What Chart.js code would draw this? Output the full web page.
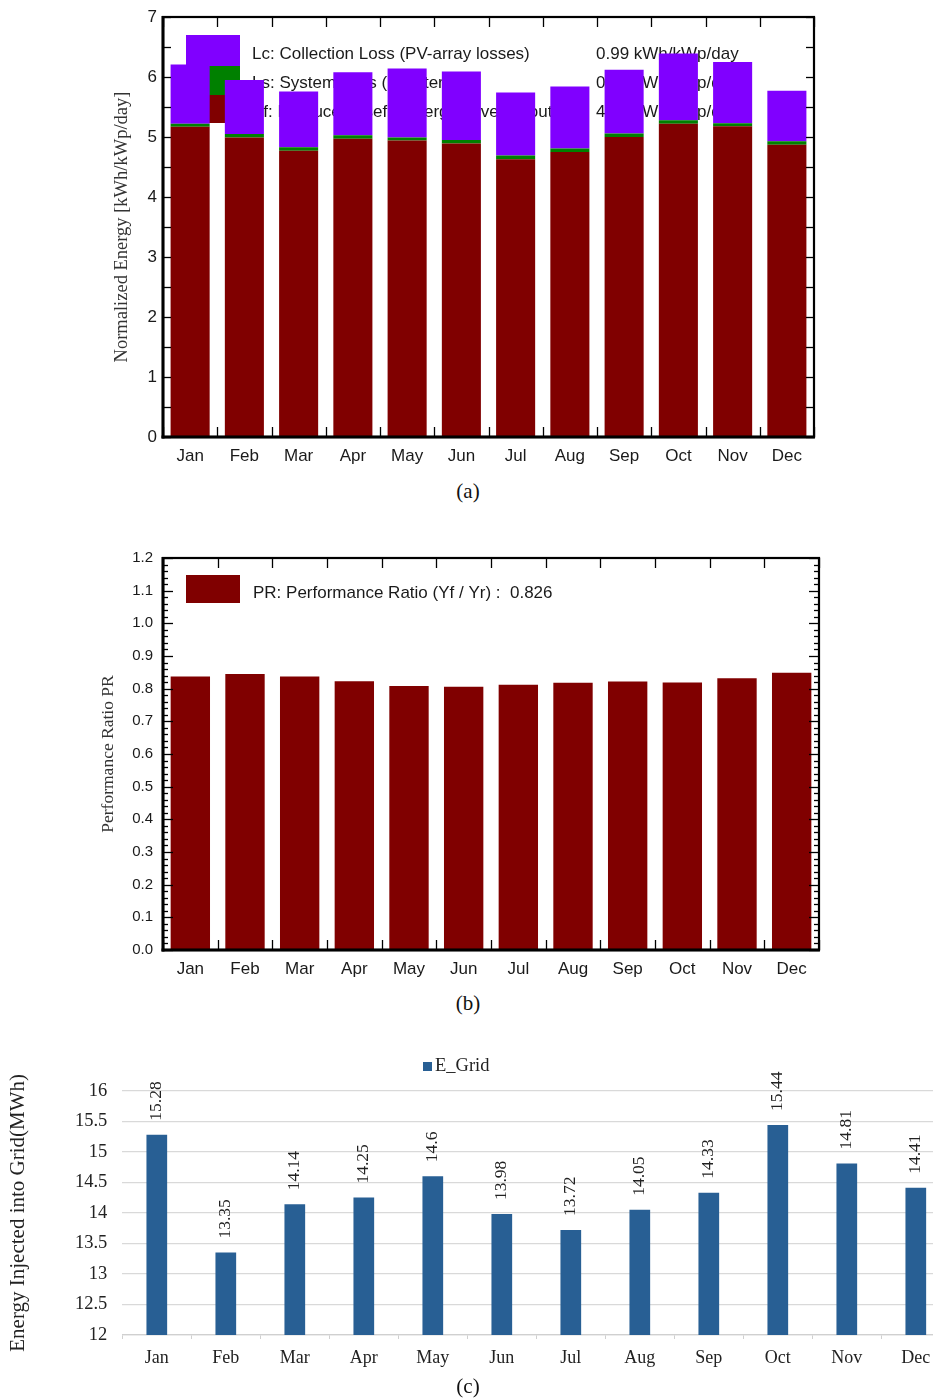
<!DOCTYPE html>
<html>
<head>
<meta charset="utf-8">
<script src="https://cdn.jsdelivr.net/npm/chart.js@4.4.1/dist/chart.umd.min.js"></script>
<style>
  html, body { margin: 0; padding: 0; background: #fff; width: 933px; height: 1399px; overflow: hidden; position: relative; }
  canvas { position: absolute; }
  .cap { position: absolute; font-family: 'Liberation Serif', serif; font-size: 21px; color: #111; transform: translate(-50%, -50%); white-space: nowrap; }
</style>
</head>
<body>
<canvas id="energyChart" style="left:0;top:0" width="933" height="475"></canvas>
<div class="cap" style="left:468px;top:491px">(a)</div>
<canvas id="ratioChart" style="left:0;top:520px" width="933" height="470"></canvas>
<div class="cap" style="left:468px;top:1003px">(b)</div>
<canvas id="gridChart" style="left:0;top:1040px" width="960" height="335"></canvas>
<div class="cap" style="left:468px;top:1386px">(c)</div>

<script>
// Monthly categories
const months = ['Jan', 'Feb', 'Mar', 'Apr', 'May', 'Jun', 'Jul', 'Aug', 'Sep', 'Oct', 'Nov', 'Dec'];

// (a) Normalized energy per installed kWp [kWh/kWp/day]
const yfProduced = [5.17, 4.99, 4.77, 4.97, 4.94, 4.89, 4.63, 4.75, 5.00, 5.22, 5.18, 4.87];
const lsSystemLoss = [0.05, 0.06, 0.06, 0.06, 0.05, 0.06, 0.06, 0.06, 0.06, 0.06, 0.05, 0.06];
const lcCollectionLoss = [0.99, 0.90, 0.93, 1.05, 1.15, 1.14, 1.05, 1.03, 1.06, 1.11, 1.02, 0.84];
const energyLegend = [
  { label: 'Lc: Collection Loss (PV-array losses)', value: '0.99 kWh/kWp/day', color: '#8000ff' },
  { label: 'Ls: System Loss (inverter, ...)', value: '0.05 kWh/kWp/day', color: '#008000' },
  { label: 'Yf: Produced useful energy (inverter output)', value: '4.94 kWh/kWp/day', color: '#800000' }
];

// (b) Performance ratio
const performanceRatio = [0.837, 0.845, 0.837, 0.823, 0.808, 0.806, 0.812, 0.818, 0.822, 0.819, 0.832, 0.849];
const prLegend = 'PR: Performance Ratio (Yf / Yr) :  0.826';

// (c) Energy injected into grid [MWh]
const eGrid = [15.28, 13.35, 14.14, 14.25, 14.6, 13.98, 13.72, 14.05, 14.33, 15.44, 14.81, 14.41];

const SANS = "'Liberation Sans', Arial, sans-serif";
const SERIF = "'Liberation Serif', 'Times New Roman', serif";
const INK = '#1a1a1a';

Chart.defaults.font.family = SANS;
Chart.defaults.color = INK;
Chart.defaults.animation = false;

// Black frame with inward tick marks on all four sides
function framePlugin(cfg) {
  return {
    id: 'frame',
    afterDatasetsDraw(chart) {
      const { ctx, chartArea: a, scales: { x, y } } = chart;
      ctx.save();
      ctx.strokeStyle = '#000';
      ctx.lineWidth = 1.3;
      const line = (x1, y1, x2, y2) => { ctx.beginPath(); ctx.moveTo(x1, y1); ctx.lineTo(x2, y2); ctx.stroke(); };
      const n = Math.round((y.max - y.min) / cfg.minorStep);
      for (let k = 0; k <= n; k++) {
        const v = y.min + k * cfg.minorStep;
        const py = Math.round(y.getPixelForValue(v)) + 0.5;
        const ratio = v / cfg.majorStep;
        const major = Math.abs(ratio - Math.round(ratio)) < 1e-6;
        const len = major ? cfg.majorLen : cfg.minorLen;
        line(a.left, py, a.left + len, py);
        line(a.right, py, a.right - len, py);
      }
      for (let i = 0; i <= chart.data.labels.length; i++) {
        const px = Math.round(x.getPixelForValue(i - 0.5)) + 0.5;
        line(px, a.top, px, a.top + cfg.xTickLen);
        line(px, a.bottom, px, a.bottom - cfg.xTickLen);
      }
      ctx.lineWidth = 2.2;
      ctx.strokeRect(a.left, a.top, a.right - a.left, a.bottom - a.top);
      ctx.lineWidth = 3;
      line(a.left, a.top - 1, a.left, a.bottom + 1.5);
      line(a.left - 1.5, a.bottom, a.right + 1, a.bottom);
      ctx.restore();
    }
  };
}

// ---------- (a) stacked normalized energy ----------
const energyLegendPlugin = {
  id: 'energyLegend',
  beforeDatasetsDraw(chart) {
    const { ctx, chartArea: a } = chart;
    ctx.save();
    const boxTops = [18, 49, 78];
    const boxBottoms = [49, 78, 106];
    energyLegend.forEach((item, i) => {
      ctx.fillStyle = item.color;
      ctx.fillRect(a.left + 23, a.top + boxTops[i], 54, boxBottoms[i] - boxTops[i]);
      ctx.fillStyle = INK;
      ctx.font = '17px ' + SANS;
      ctx.textBaseline = 'middle';
      ctx.textAlign = 'left';
      const ty = a.top + 37 + i * 29;
      ctx.fillText(item.label, a.left + 89, ty);
      ctx.fillText(item.value, a.left + 433, ty);
    });
    ctx.restore();
  }
};

new Chart(document.getElementById('energyChart'), {
  type: 'bar',
  data: {
    labels: months,
    datasets: [
      { label: 'Yf', data: yfProduced, backgroundColor: '#800000' },
      { label: 'Ls', data: lsSystemLoss, backgroundColor: '#008000' },
      { label: 'Lc', data: lcCollectionLoss, backgroundColor: '#8000ff' }
    ]
  },
  options: {
    responsive: false,
    layout: { padding: { left: 111, right: 119, top: 17, bottom: 0 } },
    datasets: { bar: { barPercentage: 0.72, categoryPercentage: 1 } },
    plugins: { legend: { display: false }, tooltip: { enabled: false } },
    scales: {
      x: {
        stacked: true,
        grid: { display: false, drawTicks: false },
        border: { display: false },
        ticks: { font: { size: 17 }, color: INK, padding: 9 },
        afterFit(s) { s.height = 38; }
      },
      y: {
        stacked: true,
        min: 0, max: 7,
        grid: { display: false, drawTicks: false },
        border: { display: false },
        ticks: { stepSize: 1, font: { size: 17 }, color: INK, padding: 6 },
        title: { display: true, text: 'Normalized Energy [kWh/kWp/day]', font: { family: SERIF, size: 18.5 }, color: '#333', padding: { top: 0, bottom: 0 } },
        afterFit(s) { s.width = 52; }
      }
    }
  },
  plugins: [energyLegendPlugin, framePlugin({ minorStep: 0.5, majorStep: 1, majorLen: 8, minorLen: 8, xTickLen: 10 })]
});

// ---------- (b) performance ratio ----------
const prLegendPlugin = {
  id: 'prLegend',
  beforeDatasetsDraw(chart) {
    const { ctx, chartArea: a } = chart;
    ctx.save();
    ctx.fillStyle = '#800000';
    ctx.fillRect(a.left + 23, a.top + 17, 54, 28);
    ctx.fillStyle = INK;
    ctx.font = '17px ' + SANS;
    ctx.textBaseline = 'middle';
    ctx.fillText(prLegend, a.left + 90, a.top + 35);
    ctx.restore();
  }
};

new Chart(document.getElementById('ratioChart'), {
  type: 'bar',
  data: {
    labels: months,
    datasets: [{ label: 'PR', data: performanceRatio, backgroundColor: '#800000' }]
  },
  options: {
    responsive: false,
    layout: { padding: { left: 98, right: 114, top: 38, bottom: 0 } },
    datasets: { bar: { barPercentage: 0.72, categoryPercentage: 1 } },
    plugins: { legend: { display: false }, tooltip: { enabled: false } },
    scales: {
      x: {
        grid: { display: false, drawTicks: false },
        border: { display: false },
        ticks: { font: { size: 17 }, color: INK, padding: 9 },
        afterFit(s) { s.height = 40; }
      },
      y: {
        min: 0, max: 1.2,
        grid: { display: false, drawTicks: false },
        border: { display: false },
        ticks: { stepSize: 0.1, font: { size: 15 }, color: INK, padding: 10, callback: v => Number(v).toFixed(1) },
        title: { display: true, text: 'Performance Ratio PR', font: { family: SERIF, size: 17.5 }, color: '#333', padding: { top: 0, bottom: 0 } },
        afterFit(s) { s.width = 65; }
      }
    }
  },
  plugins: [prLegendPlugin, framePlugin({ minorStep: 0.02, majorStep: 0.1, majorLen: 10, minorLen: 5, xTickLen: 10 })]
});

// ---------- (c) energy injected into grid ----------
const GRID_BLUE = '#285f94';

const valueLabelPlugin = {
  id: 'valueLabels',
  afterDatasetsDraw(chart) {
    const { ctx } = chart;
    const meta = chart.getDatasetMeta(0);
    ctx.save();
    ctx.fillStyle = '#222';
    ctx.font = '17.5px ' + SERIF;
    ctx.textAlign = 'left';
    ctx.textBaseline = 'middle';
    meta.data.forEach((bar, i) => {
      ctx.save();
      ctx.translate(bar.x, bar.y - 14);
      ctx.rotate(-Math.PI / 2);
      ctx.fillText(String(eGrid[i]), 0, 0);
      ctx.restore();
    });
    ctx.restore();
  }
};

const gridLegendPlugin = {
  id: 'gridLegend',
  afterDraw(chart) {
    const { ctx } = chart;
    ctx.save();
    ctx.fillStyle = GRID_BLUE;
    ctx.fillRect(423, 22, 9, 9);
    ctx.fillStyle = '#222';
    ctx.font = '18.5px ' + SERIF;
    ctx.textBaseline = 'middle';
    ctx.fillText('E_Grid', 435, 26.5);
    ctx.restore();
  }
};

new Chart(document.getElementById('gridChart'), {
  type: 'bar',
  data: {
    labels: months,
    datasets: [{ label: 'E_Grid', data: eGrid, backgroundColor: GRID_BLUE }]
  },
  options: {
    responsive: false,
    layout: { padding: { left: 0, right: 9.7, top: 50.7, bottom: 0 } },
    datasets: { bar: { barPercentage: 0.30, categoryPercentage: 1 } },
    plugins: { legend: { display: false }, tooltip: { enabled: false } },
    scales: {
      x: {
        grid: { display: true, drawOnChartArea: false, drawTicks: true, tickLength: 4, color: '#d0d0d0' },
        border: { display: true, color: '#d0d0d0', width: 1.3 },
        ticks: { font: { family: SERIF, size: 18 }, color: '#222', padding: 8 },
        afterFit(s) { s.height = 40; }
      },
      y: {
        min: 12, max: 16,
        grid: { color: '#d9d9d9', lineWidth: 1.3, drawTicks: false },
        border: { display: false },
        ticks: { stepSize: 0.5, font: { family: SERIF, size: 18.5 }, color: '#222', padding: 15, callback: v => String(+Number(v).toFixed(2)) },
        title: { display: true, text: 'Energy Injected into Grid(MWh)', font: { family: SERIF, size: 21 }, color: '#222', padding: { top: 6, bottom: 0 } },
        afterFit(s) { s.width = 122.3; }
      }
    }
  },
  plugins: [valueLabelPlugin, gridLegendPlugin]
});
</script>
</body>
</html>
